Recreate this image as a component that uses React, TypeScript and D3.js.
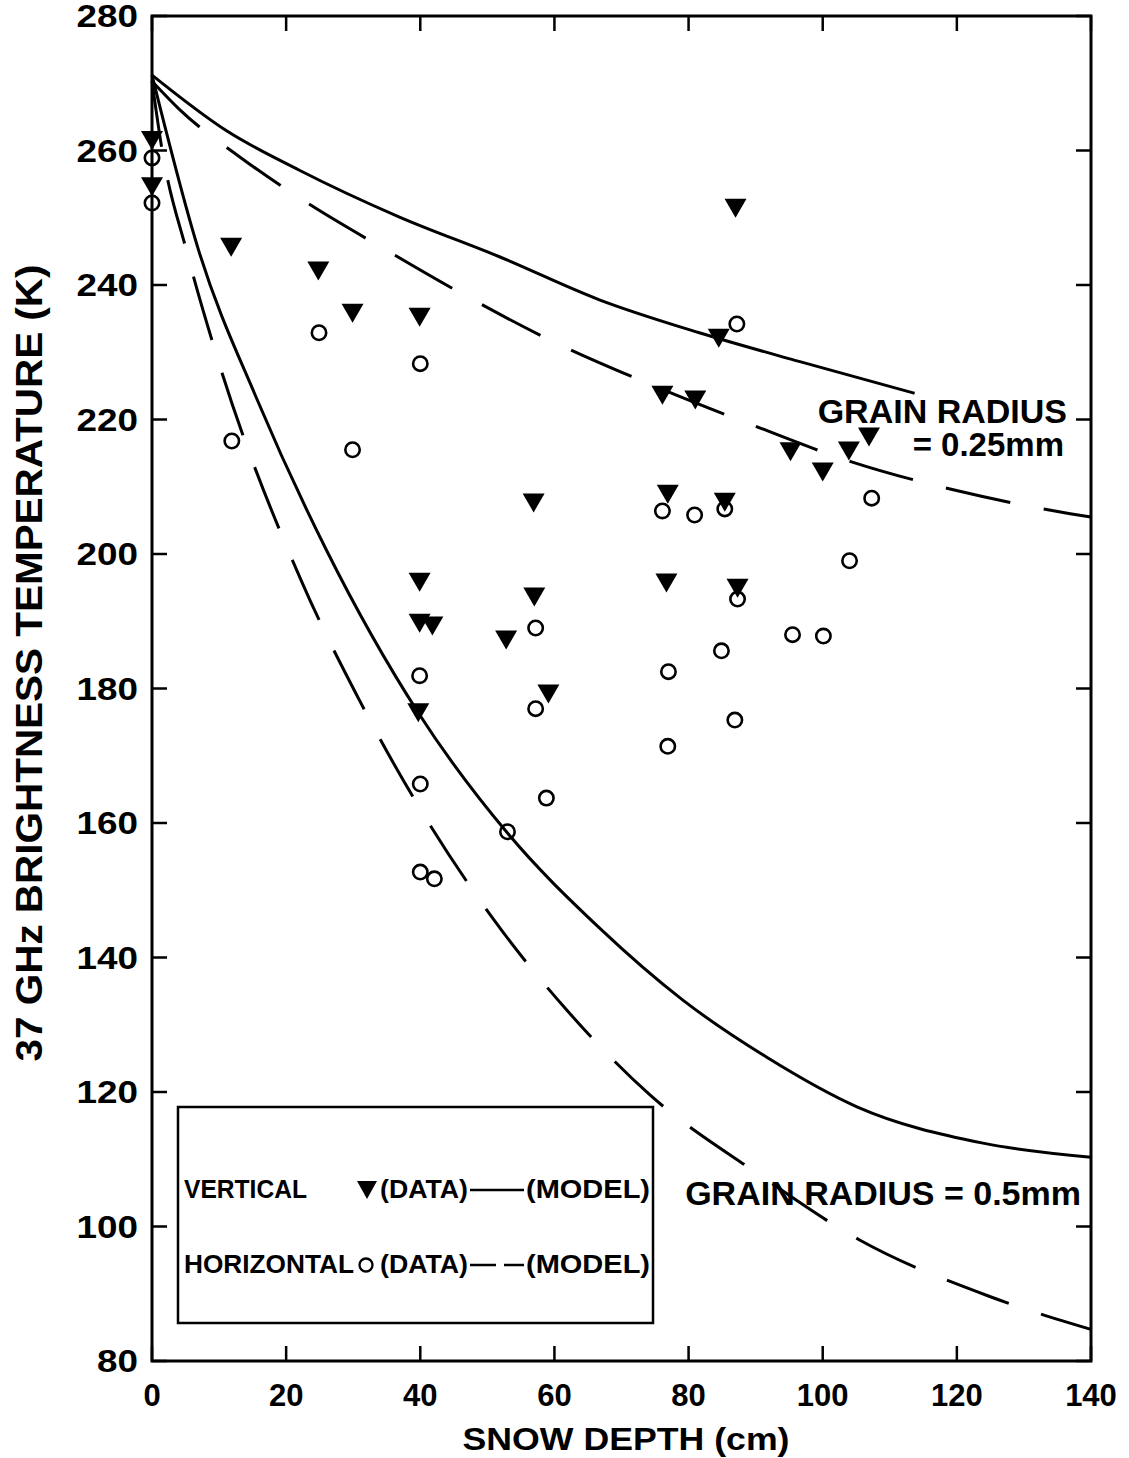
import React from 'react';
import * as d3 from 'd3';

// Axis ticks
const depthTicks = [0, 20, 40, 60, 80, 100, 120, 140];
const tbTicks = [80, 100, 120, 140, 160, 180, 200, 220, 240, 260, 280];

// Vertical polarization measurements (snow depth cm, Tb K)
const vertDepth = [0, 0, 11.8, 24.8, 29.9, 39.9, 87.0, 84.5, 76.1, 81.0, 95.2, 100.0, 103.9, 106.9, 56.9, 76.9, 85.4, 39.9, 39.9, 41.8, 57.0, 52.8, 59.1, 76.7, 87.3, 39.7];
const vertTb = [261.5, 254.6, 245.6, 242.1, 235.8, 235.2, 251.4, 232.1, 223.6, 222.9, 215.2, 212.2, 215.3, 217.4, 207.6, 208.9, 207.7, 195.8, 189.7, 189.3, 193.6, 187.2, 179.2, 195.7, 194.9, 176.4];

// Horizontal polarization measurements
const horizDepth = [0, 0, 24.9, 40.0, 11.9, 29.9, 87.2, 76.1, 80.9, 85.4, 107.3, 104.0, 87.3, 95.5, 100.1, 57.2, 39.9, 57.2, 77.0, 84.9, 86.9, 76.9, 58.8, 40.0, 53.0, 40.0, 42.1];
const horizTb = [258.9, 252.2, 232.9, 228.3, 216.8, 215.5, 234.2, 206.4, 205.8, 206.7, 208.3, 199.0, 193.3, 188.0, 187.8, 189.0, 181.9, 177.0, 182.5, 185.6, 175.3, 171.4, 163.7, 165.8, 158.7, 152.7, 151.7];

// Model: vertical, grain radius 0.25 mm
const vModelSmallDepth = [0, 11, 21.9, 36.9, 51.8, 66.7, 81.6, 96.6, 113.7];
const vModelSmallTb = [271.2, 263.0, 257.1, 250.1, 244.2, 237.8, 232.9, 228.6, 223.9];

// Model: horizontal, grain radius 0.25 mm
const hModelSmallDepth = [0, 4, 13.7, 23, 34.9, 47.3, 60, 73.9, 88.7, 104.3, 120.1, 136.9, 140];
const hModelSmallTb = [270.3, 266.2, 258.6, 252.3, 245.2, 238.1, 231.5, 225.4, 219.5, 213.7, 209.4, 206.0, 205.5];

// Model: vertical, grain radius 0.5 mm
const vModelLargeDepth = [0, 7, 15.7, 26, 39.7, 53, 66.7, 79.1, 91.6, 105.1, 123.9, 140];
const vModelLargeTb = [271.2, 245.0, 222.9, 200.6, 176.4, 158.5, 144.4, 133.7, 125.2, 117.8, 112.4, 110.3];

// Model: horizontal, grain radius 0.5 mm
const hModelLargeDepth = [0, 1.5, 5.2, 9.7, 22.4, 30.9, 40.1, 50.9, 62, 74.2, 90.1, 105.5, 124.6, 140];
const hModelLargeTb = [270.3, 260.1, 244.9, 229.3, 195.7, 178.3, 161.9, 145.7, 132, 119.6, 108, 98, 89.7, 84.7];

const FONT = '"Liberation Sans", Arial, Helvetica, sans-serif';

export default function App() {
  const W = 1129;
  const H = 1458;
  const x = d3.scaleLinear().domain([0, 140]).range([152, 1091]);
  const y = d3.scaleLinear().domain([80, 280]).range([1361, 16]);

  const curve = (xs: number[], ys: number[]) =>
    d3
      .line<number>()
      .x((_, i) => x(xs[i]))
      .y((d) => y(d))
      .curve(d3.curveMonotoneX)(ys) || '';

  const tri = (cx: number, cy: number, w: number, h: number) =>
    `M${cx - w / 2},${cy - h / 2}L${cx + w / 2},${cy - h / 2}L${cx},${cy + h / 2}Z`;

  const tick = 15;
  const x0 = x(0), x1 = x(140), yb = y(80), yt = y(280);
  const dash = '66 34';

  return (
    <div style={{ position: 'absolute', left: 0, top: 0 }}>
      <svg width={W} height={H} viewBox={`0 0 ${W} ${H}`} style={{ display: 'block', background: '#fff' }}>
        <rect x={0} y={0} width={W} height={H} fill="#fff" />

        {/* frame */}
        <rect x={x0} y={yt} width={x1 - x0} height={yb - yt} fill="none" stroke="#000" strokeWidth={3} />

        {/* inward ticks on all four sides */}
        {depthTicks.map((t) => (
          <g key={'xt' + t} stroke="#000" strokeWidth={2.5}>
            <line x1={x(t)} x2={x(t)} y1={yb} y2={yb - tick} />
            <line x1={x(t)} x2={x(t)} y1={yt} y2={yt + tick} />
          </g>
        ))}
        {tbTicks.map((t) => (
          <g key={'yt' + t} stroke="#000" strokeWidth={2.5}>
            <line x1={x0} x2={x0 + tick} y1={y(t)} y2={y(t)} />
            <line x1={x1} x2={x1 - tick} y1={y(t)} y2={y(t)} />
          </g>
        ))}

        {/* tick labels */}
        {depthTicks.map((t) => (
          <text key={'xl' + t} x={x(t)} y={1406} textAnchor="middle" fontFamily={FONT} fontWeight="bold" fontSize={31}>
            {t}
          </text>
        ))}
        {tbTicks.map((t) => (
          <text
            key={'yl' + t}
            x={138}
            y={y(t) + 11}
            textAnchor="end"
            fontFamily={FONT}
            fontWeight="bold"
            fontSize={31}
            textLength={String(t).length * 20.5}
            lengthAdjust="spacingAndGlyphs"
          >
            {t}
          </text>
        ))}

        {/* axis titles */}
        <text x={626} y={1450} textAnchor="middle" fontFamily={FONT} fontWeight="bold" fontSize={32} textLength={327} lengthAdjust="spacingAndGlyphs">
          SNOW DEPTH (cm)
        </text>
        <text
          transform="translate(42,663) rotate(-90)"
          textAnchor="middle"
          fontFamily={FONT}
          fontWeight="bold"
          fontSize={37}
          textLength={797}
          lengthAdjust="spacingAndGlyphs"
        >
          37 GHz BRIGHTNESS TEMPERATURE (K)
        </text>

        {/* model curves */}
        <g fill="none" stroke="#000" strokeWidth={3}>
          <path d={curve(vModelSmallDepth, vModelSmallTb)} />
          <path d={curve(vModelLargeDepth, vModelLargeTb)} />
          <path d={curve(hModelSmallDepth, hModelSmallTb)} strokeDasharray={dash} />
          <path d={curve(hModelLargeDepth, hModelLargeTb)} strokeDasharray={dash} />
        </g>

        {/* horizontal data: open circles */}
        {horizDepth.map((d, i) => (
          <circle key={'h' + i} cx={x(d)} cy={y(horizTb[i])} r={7.2} fill="none" stroke="#000" strokeWidth={2.6} />
        ))}
        {/* vertical data: filled down-triangles */}
        {vertDepth.map((d, i) => (
          <path key={'v' + i} d={tri(x(d), y(vertTb[i]), 22, 19)} fill="#000" />
        ))}

        {/* curve annotations */}
        <g fontFamily={FONT} fontWeight="bold" fontSize={34}>
          <text x={1067} y={423} textAnchor="end">GRAIN RADIUS</text>
          <text x={1064} y={456} fontSize={33} textAnchor="end">= 0.25mm</text>
          <text x={1081} y={1205} textAnchor="end">GRAIN RADIUS = 0.5mm</text>
        </g>

        {/* legend */}
        <rect x={178} y={1107} width={475} height={216} fill="#fff" stroke="#000" strokeWidth={2.5} />
        <g fontFamily={FONT} fontWeight="bold" fontSize={26}>
          <text x={184} y={1198} textLength={123} lengthAdjust="spacingAndGlyphs">VERTICAL</text>
          <path d={tri(367, 1190, 20, 18)} fill="#000" />
          <text x={380} y={1198} textLength={88} lengthAdjust="spacingAndGlyphs">(DATA)</text>
          <line x1={470} x2={524} y1={1190} y2={1190} stroke="#000" strokeWidth={2.5} />
          <text x={526} y={1198} textLength={124} lengthAdjust="spacingAndGlyphs">(MODEL)</text>

          <text x={184} y={1273} textLength={170} lengthAdjust="spacingAndGlyphs">HORIZONTAL</text>
          <circle cx={366} cy={1265} r={6.5} fill="none" stroke="#000" strokeWidth={2.3} />
          <text x={380} y={1273} textLength={88} lengthAdjust="spacingAndGlyphs">(DATA)</text>
          <line x1={470} x2={496} y1={1265} y2={1265} stroke="#000" strokeWidth={2.5} />
          <line x1={504} x2={524} y1={1265} y2={1265} stroke="#000" strokeWidth={2.5} />
          <text x={526} y={1273} textLength={124} lengthAdjust="spacingAndGlyphs">(MODEL)</text>
        </g>
      </svg>
    </div>
  );
}
